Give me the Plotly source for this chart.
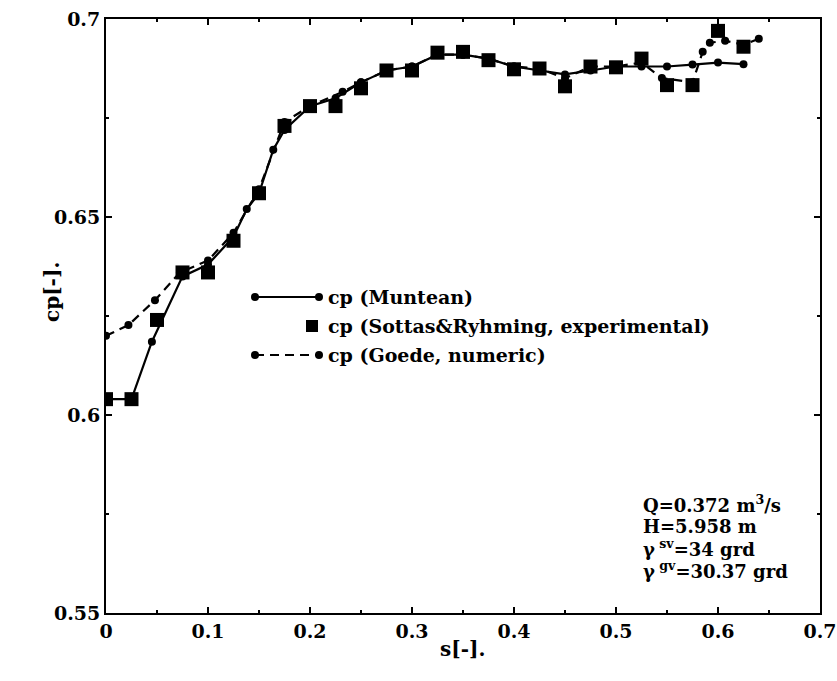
import plotly.graph_objects as go

# Pressure coefficient along the blade, three sources
s_muntean = [0, 0.025, 0.045, 0.075, 0.1, 0.125, 0.138, 0.15, 0.164, 0.175, 0.2, 0.225, 0.25,
             0.275, 0.3, 0.325, 0.35, 0.375, 0.4, 0.425, 0.45, 0.475, 0.5, 0.525, 0.55, 0.575,
             0.6, 0.625]
cp_muntean = [0.604, 0.604, 0.6185, 0.635, 0.638, 0.645, 0.652, 0.656, 0.667, 0.672, 0.678,
              0.680, 0.684, 0.687, 0.688, 0.691, 0.691, 0.690, 0.688, 0.687, 0.686, 0.687,
              0.688, 0.688, 0.688, 0.6885, 0.689, 0.6886]

s_exp = [0, 0.025, 0.05, 0.075, 0.1, 0.125, 0.15, 0.175, 0.2, 0.225, 0.25, 0.275, 0.3, 0.325,
         0.35, 0.375, 0.4, 0.425, 0.45, 0.475, 0.5, 0.525, 0.55, 0.575, 0.6, 0.625]
cp_exp = [0.604, 0.604, 0.624, 0.636, 0.636, 0.644, 0.656, 0.673, 0.678, 0.678, 0.6825, 0.687,
          0.687, 0.6915, 0.6917, 0.6896, 0.6873, 0.6875, 0.683, 0.688, 0.6878, 0.690, 0.6833,
          0.6833, 0.697, 0.693]

s_goede = [0, 0.022, 0.048, 0.0725, 0.1, 0.125, 0.15, 0.175, 0.2, 0.232, 0.25, 0.275, 0.3,
           0.325, 0.35, 0.375, 0.4, 0.425, 0.45, 0.475, 0.5, 0.525, 0.545, 0.575, 0.585, 0.592,
           0.607, 0.625, 0.64]
cp_goede = [0.620, 0.6227, 0.629, 0.636, 0.639, 0.646, 0.657, 0.674, 0.678, 0.6816, 0.684,
            0.687, 0.688, 0.691, 0.691, 0.690, 0.688, 0.6875, 0.685, 0.688, 0.688, 0.689,
            0.6851, 0.684, 0.6917, 0.694, 0.6945, 0.6935, 0.695]

x_ticks = [0, 0.1, 0.2, 0.3, 0.4, 0.5, 0.6, 0.7]
x_tick_text = ["0", "0.1", "0.2", "0.3", "0.4", "0.5", "0.6", "0.7"]
y_ticks = [0.55, 0.6, 0.65, 0.7]
y_tick_text = ["0.55", "0.6", "0.65", "0.7"]

legend_names = ["cp (Muntean)", "cp (Sottas&Ryhming, experimental)", "cp (Goede, numeric)"]
info_lines = ["Q=0.372 m<sup>3</sup>/s", "H=5.958 m",
              "\u03b3<sup> sv</sup>=34 grd", "\u03b3<sup> gv</sup>=30.37 grd"]

FONT = "DejaVu Serif"
W, H = 837, 681
ML, MR, MT, MB = 106, 17, 19, 68
PW, PH = W - ML - MR, H - MT - MB


def px(x):
    return (x - ML) / PW


def py(y):
    return (H - MB - y) / PH


fig = go.Figure()
fig.add_trace(go.Scatter(x=s_goede, y=cp_goede, mode="lines+markers",
                         line=dict(color="black", width=2.2, dash="9px,6px"),
                         marker=dict(symbol="circle", size=8, color="black"),
                         name=legend_names[2], showlegend=False))
fig.add_trace(go.Scatter(x=s_muntean, y=cp_muntean, mode="lines+markers",
                         line=dict(color="black", width=2.2),
                         marker=dict(symbol="circle", size=8, color="black"),
                         name=legend_names[0], showlegend=False))
fig.add_trace(go.Scatter(x=s_exp, y=cp_exp, mode="markers",
                         marker=dict(symbol="square", size=14, color="black"),
                         name=legend_names[1], showlegend=False))

axis_common = dict(showgrid=False, zeroline=False, showline=True, linecolor="black",
                   linewidth=2, mirror="ticks", ticks="inside", tickcolor="black",
                   tickwidth=1.5, ticklen=6, ticklabeloverflow="allow", automargin=False,
                   tickfont=dict(family=FONT, size=19, color="black", weight="bold"))
fig.update_xaxes(range=[0, 0.7], tickvals=x_ticks, ticktext=x_tick_text,
                 minor=dict(dtick=0.05, ticks="inside", ticklen=3, tickcolor="black"),
                 **axis_common)
fig.update_yaxes(range=[0.55, 0.7], tickvals=y_ticks, ticktext=y_tick_text,
                 minor=dict(dtick=0.025, ticks="inside", ticklen=3, tickcolor="black"),
                 **axis_common)

bold = dict(family=FONT, size=19, color="black", weight="bold")
annotations = [
    dict(text="s[-].", x=px(462), y=py(663), xref="paper", yref="paper",
         showarrow=False, font=dict(family=FONT, size=20, color="black", weight="bold")),
    dict(text="cp[-].", x=px(38), y=py(292), xref="paper", yref="paper",
         showarrow=False, font=dict(family=FONT, size=20, color="black", weight="bold"),
         textangle=-90),
]

# legend rows drawn by hand
row_y = [297, 326, 355]
shapes = []
for i, yy in enumerate([row_y[0], row_y[2]]):
    shapes.append(dict(type="line", xref="paper", yref="paper", x0=px(255), x1=px(319),
                       y0=py(yy), y1=py(yy),
                       line=dict(color="black", width=2.2, dash="solid" if i == 0 else "9px,6px")))
    for cx in (255, 319):
        shapes.append(dict(type="circle", xref="paper", yref="paper",
                           x0=px(cx - 4), x1=px(cx + 4), y0=py(yy + 4), y1=py(yy - 4),
                           fillcolor="black", line=dict(color="black", width=0)))
shapes.append(dict(type="rect", xref="paper", yref="paper",
                   x0=px(306), x1=px(318), y0=py(row_y[1] + 6), y1=py(row_y[1] - 6),
                   fillcolor="black", line=dict(color="black", width=0)))
for name, yy in zip(legend_names, row_y):
    annotations.append(dict(text=name, x=px(326), y=py(yy), xref="paper", yref="paper",
                            xanchor="left", yanchor="middle", showarrow=False, font=bold))

for line, yy in zip(info_lines, [504, 526, 548, 570]):
    annotations.append(dict(text=line, x=px(641), y=py(yy), xref="paper", yref="paper",
                            xanchor="left", yanchor="middle", showarrow=False,
                            font=dict(family=FONT, size=18, color="black", weight="bold")))

fig.update_layout(width=W, height=H, margin=dict(l=ML, r=MR, t=MT, b=MB),
                  paper_bgcolor="white", plot_bgcolor="white", showlegend=False,
                  annotations=annotations, shapes=shapes)

fig.write_html("out.html")
